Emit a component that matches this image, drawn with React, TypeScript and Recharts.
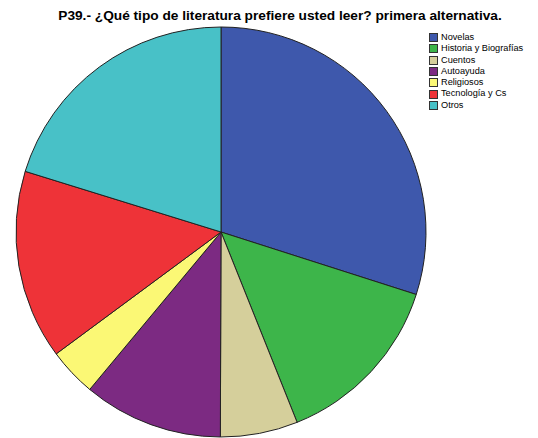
import { PieChart, Pie, Cell } from "recharts";

const categories = [
  "Novelas",
  "Historia y Biografías",
  "Cuentos",
  "Autoayuda",
  "Religiosos",
  "Tecnología y Cs",
  "Otros",
];
const percents = [29.9, 14.0, 6.1, 11.0, 3.8, 14.9, 20.2];
const colors = ["#3E58AC", "#3DB54A", "#D5CF9B", "#7C2A82", "#FBF875", "#EE3338", "#48C1C7"];

const title = "P39.- ¿Qué tipo de literatura prefiere usted leer? primera alternativa.";

const data = categories.map((name, i) => ({ name, value: percents[i] }));

function LegendBox() {
  return (
    <div
      style={{
        position: "absolute",
        left: 429,
        top: 32,
        fontFamily: "'Liberation Sans', Arial, sans-serif",
        fontSize: 9.2,
        lineHeight: "11.3px",
        color: "#000",
      }}
    >
      {categories.map((c, i) => (
        <div key={c} style={{ display: "flex", alignItems: "center" }}>
          <span
            style={{
              display: "inline-block",
              width: 7,
              height: 7,
              background: colors[i],
              border: "1px solid #333",
              marginRight: 3,
            }}
          />
          <span>{c}</span>
        </div>
      ))}
    </div>
  );
}

export default function App() {
  return (
    <div style={{ position: "absolute", left: 0, top: 0, width: 538, height: 438, background: "#fff", overflow: "hidden" }}>
      <PieChart width={538} height={438} margin={{ top: 0, right: 0, bottom: 0, left: 0 }}>
        <Pie
          data={data}
          dataKey="value"
          nameKey="name"
          cx={221}
          cy={232}
          outerRadius={205}
          startAngle={90}
          endAngle={-270}
          stroke="#222"
          strokeWidth={1}
          isAnimationActive={false}
        >
          {data.map((d, i) => (
            <Cell key={d.name} fill={colors[i]} />
          ))}
        </Pie>
      </PieChart>
      <div
        style={{
          position: "absolute",
          left: 0,
          width: 560,
          top: 8,
          textAlign: "center",
          fontFamily: "'Liberation Sans', Arial, sans-serif",
          fontWeight: "bold",
          fontSize: 13.7,
          lineHeight: "16px",
          color: "#000",
        }}
      >
        {title}
      </div>
      <LegendBox />
    </div>
  );
}
